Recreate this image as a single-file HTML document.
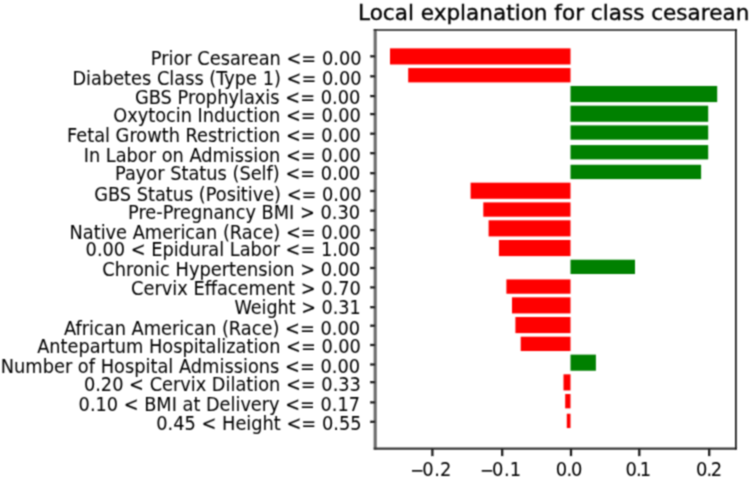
<!DOCTYPE html>
<html lang="en">
<head>
<meta charset="utf-8">
<title>Local explanation for class cesarean</title>
<style>
html,body{margin:0;padding:0;background:#fff;}
body{width:750px;height:479px;overflow:hidden;}
svg{display:block;}
text{font-family:"DejaVu Sans","Liberation Sans",sans-serif;fill:#000;stroke:#000;stroke-width:0.05px;}
.yl{font-size:17.9px;text-anchor:end;}
.xl{font-size:17.9px;text-anchor:start;}
.ttl{font-size:21.57px;text-anchor:middle;stroke-width:0.35px;}
.sp{stroke:#161616;stroke-width:1.7;fill:none;}
.tk{stroke:#1c1c1c;stroke-width:2.3;fill:none;}
</style>
</head>
<body>
<svg width="750" height="479" viewBox="0 0 750 479">
<rect x="0" y="0" width="750" height="479" fill="#ffffff"/>
<defs><filter id="soft" x="0" y="0" width="750" height="479" filterUnits="userSpaceOnUse"><feConvolveMatrix order="3" kernelMatrix="0.0484 0.1232 0.0484 0.1232 0.3136 0.1232 0.0484 0.1232 0.0484" edgeMode="duplicate"/></filter></defs>
<g id="plot" filter="url(#soft)">
<g id="bars">
<rect x="390.0" y="48.36" width="180.5" height="16.12" fill="#ff0000"/>
<rect x="408.2" y="68.06" width="162.3" height="14.33" fill="#ff0000"/>
<rect x="570.5" y="85.97" width="146.7" height="16.12" fill="#008000"/>
<rect x="570.5" y="105.67" width="137.7" height="16.12" fill="#008000"/>
<rect x="570.5" y="125.37" width="137.7" height="14.33" fill="#008000"/>
<rect x="570.5" y="145.07" width="137.7" height="14.33" fill="#008000"/>
<rect x="570.5" y="164.77" width="130.6" height="14.33" fill="#008000"/>
<rect x="470.6" y="182.68" width="99.9" height="16.12" fill="#ff0000"/>
<rect x="483.3" y="202.38" width="87.2" height="14.33" fill="#ff0000"/>
<rect x="488.6" y="220.29" width="81.9" height="16.12" fill="#ff0000"/>
<rect x="498.9" y="239.99" width="71.6" height="16.12" fill="#ff0000"/>
<rect x="570.5" y="259.69" width="64.5" height="14.33" fill="#008000"/>
<rect x="506.4" y="279.40" width="64.1" height="14.33" fill="#ff0000"/>
<rect x="512.0" y="297.31" width="58.5" height="16.12" fill="#ff0000"/>
<rect x="515.4" y="317.01" width="55.1" height="16.12" fill="#ff0000"/>
<rect x="520.7" y="336.71" width="49.8" height="14.33" fill="#ff0000"/>
<rect x="570.5" y="354.62" width="25.4" height="16.12" fill="#008000"/>
<rect x="563.5" y="374.32" width="7.0" height="16.12" fill="#ff0000"/>
<rect x="565.2" y="394.02" width="5.3" height="14.33" fill="#ff0000"/>
<rect x="566.8" y="413.72" width="3.7" height="14.33" fill="#ff0000"/>
</g>
<g id="spines">
<line x1="375.2" y1="29.1" x2="375.2" y2="449.6" stroke="#6a6a6a" stroke-width="3.1"/>
<line x1="373.7" y1="448.7" x2="736.8" y2="448.7" stroke="#363636" stroke-width="2.3"/>
<line class="sp" x1="373.7" y1="30.0" x2="736.8" y2="30.0"/>
<line class="sp" x1="735.9" y1="29.1" x2="735.9" y2="449.6"/>
</g>
<g id="yaxis">
<line class="tk" x1="370.2" y1="56.30" x2="375.2" y2="56.30"/>
<text class="yl" transform="translate(361.5 64.80) scale(1 1.080)" textLength="210.7" lengthAdjust="spacingAndGlyphs">Prior Cesarean &lt;= 0.00</text>
<line class="tk" x1="370.2" y1="76.30" x2="375.2" y2="76.30"/>
<text class="yl" transform="translate(361.5 84.60) scale(1 1.080)" textLength="289.1" lengthAdjust="spacingAndGlyphs">Diabetes Class (Type 1) &lt;= 0.00</text>
<line class="tk" x1="370.2" y1="96.10" x2="375.2" y2="96.10"/>
<text class="yl" transform="translate(360.4 104.10) scale(1 1.080)" textLength="225.5" lengthAdjust="spacingAndGlyphs">GBS Prophylaxis &lt;= 0.00</text>
<line class="tk" x1="370.2" y1="114.10" x2="375.2" y2="114.10"/>
<text class="yl" transform="translate(360.9 122.30) scale(1 1.080)" textLength="247.7" lengthAdjust="spacingAndGlyphs">Oxytocin Induction &lt;= 0.00</text>
<line class="tk" x1="370.2" y1="133.70" x2="375.2" y2="133.70"/>
<text class="yl" transform="translate(360.9 142.00) scale(1 1.080)" textLength="293.9" lengthAdjust="spacingAndGlyphs">Fetal Growth Restriction &lt;= 0.00</text>
<line class="tk" x1="370.2" y1="153.20" x2="375.2" y2="153.20"/>
<text class="yl" transform="translate(360.9 161.60) scale(1 1.080)" textLength="277.2" lengthAdjust="spacingAndGlyphs">In Labor on Admission &lt;= 0.00</text>
<line class="tk" x1="370.2" y1="173.20" x2="375.2" y2="173.20"/>
<text class="yl" transform="translate(360.4 179.80) scale(1 1.080)" textLength="245.4" lengthAdjust="spacingAndGlyphs">Payor Status (Self) &lt;= 0.00</text>
<line class="tk" x1="370.2" y1="191.00" x2="375.2" y2="191.00"/>
<text class="yl" transform="translate(361.5 201.00) scale(1 1.080)" textLength="267.3" lengthAdjust="spacingAndGlyphs">GBS Status (Positive) &lt;= 0.00</text>
<line class="tk" x1="370.2" y1="210.70" x2="375.2" y2="210.70"/>
<text class="yl" transform="translate(360.1 218.50) scale(1 1.080)" textLength="232.1" lengthAdjust="spacingAndGlyphs">Pre-Pregnancy BMI &gt; 0.30</text>
<line class="tk" x1="370.2" y1="230.10" x2="375.2" y2="230.10"/>
<text class="yl" transform="translate(360.9 238.60) scale(1 1.080)" textLength="291.4" lengthAdjust="spacingAndGlyphs">Native American (Race) &lt;= 0.00</text>
<line class="tk" x1="370.2" y1="248.20" x2="375.2" y2="248.20"/>
<text class="yl" transform="translate(360.4 256.40) scale(1 1.080)" textLength="274.8" lengthAdjust="spacingAndGlyphs">0.00 &lt; Epidural Labor &lt;= 1.00</text>
<line class="tk" x1="370.2" y1="268.00" x2="375.2" y2="268.00"/>
<text class="yl" transform="translate(360.4 275.80) scale(1 1.080)" textLength="258.1" lengthAdjust="spacingAndGlyphs">Chronic Hypertension &gt; 0.00</text>
<line class="tk" x1="370.2" y1="287.40" x2="375.2" y2="287.40"/>
<text class="yl" transform="translate(360.9 295.30) scale(1 1.080)" textLength="229.8" lengthAdjust="spacingAndGlyphs">Cervix Effacement &gt; 0.70</text>
<line class="tk" x1="370.2" y1="307.20" x2="375.2" y2="307.20"/>
<text class="yl" transform="translate(360.6 313.50) scale(1 1.080)" textLength="126.2" lengthAdjust="spacingAndGlyphs">Weight &gt; 0.31</text>
<line class="tk" x1="370.2" y1="325.70" x2="375.2" y2="325.70"/>
<text class="yl" transform="translate(360.1 334.80) scale(1 1.080)" textLength="296.2" lengthAdjust="spacingAndGlyphs">African American (Race) &lt;= 0.00</text>
<line class="tk" x1="370.2" y1="345.00" x2="375.2" y2="345.00"/>
<text class="yl" transform="translate(360.9 353.10) scale(1 1.080)" textLength="323.7" lengthAdjust="spacingAndGlyphs">Antepartum Hospitalization &lt;= 0.00</text>
<line class="tk" x1="370.2" y1="364.50" x2="375.2" y2="364.50"/>
<text class="yl" transform="translate(360.1 372.50) scale(1 1.080)" textLength="359.4" lengthAdjust="spacingAndGlyphs">Number of Hospital Admissions &lt;= 0.00</text>
<line class="tk" x1="370.2" y1="382.20" x2="375.2" y2="382.20"/>
<text class="yl" transform="translate(360.9 390.70) scale(1 1.080)" textLength="277.0" lengthAdjust="spacingAndGlyphs">0.20 &lt; Cervix Dilation &lt;= 0.33</text>
<line class="tk" x1="370.2" y1="402.40" x2="375.2" y2="402.40"/>
<text class="yl" transform="translate(360.0 410.50) scale(1 1.080)" textLength="281.4" lengthAdjust="spacingAndGlyphs">0.10 &lt; BMI at Delivery &lt;= 0.17</text>
<line class="tk" x1="370.2" y1="421.80" x2="375.2" y2="421.80"/>
<text class="yl" transform="translate(361.5 429.90) scale(1 1.080)" textLength="205.3" lengthAdjust="spacingAndGlyphs">0.45 &lt; Height &lt;= 0.55</text>
</g>
<g id="xaxis">
<line class="tk" x1="432.4" y1="448.7" x2="432.4" y2="456.1"/>
<text class="xl" transform="translate(0 476.4) scale(1 1.080)" y="0"><tspan x="410.2" dy="0.5" textLength="13.95" lengthAdjust="spacingAndGlyphs">−</tspan><tspan x="422.2 434.3 440.0" dy="-0.5">0.2</tspan></text>
<line class="tk" x1="502.2" y1="448.7" x2="502.2" y2="456.1"/>
<text class="xl" transform="translate(0 476.4) scale(1 1.080)" y="0"><tspan x="480.0" dy="0.5" textLength="13.95" lengthAdjust="spacingAndGlyphs">−</tspan><tspan x="492.0 504.1 509.8" dy="-0.5">0.1</tspan></text>
<line class="tk" x1="571.0" y1="448.7" x2="571.0" y2="456.1"/>
<text class="xl" transform="translate(0 476.4) scale(1 1.080)" x="555.7 566.5 571.0" y="0">0.0</text>
<line class="tk" x1="639.3" y1="448.7" x2="639.3" y2="456.1"/>
<text class="xl" transform="translate(0 476.4) scale(1 1.080)" x="625.6 636.1 639.8" y="0">0.1</text>
<line class="tk" x1="709.2" y1="448.7" x2="709.2" y2="456.1"/>
<text class="xl" transform="translate(0 476.4) scale(1 1.080)" x="696.0 706.5 710.8" y="0">0.2</text>
</g>
<text class="ttl" transform="translate(553.7 19.8) scale(1 1.000)">Local explanation for class cesarean</text>
</g>
</svg>
</body>
</html>
